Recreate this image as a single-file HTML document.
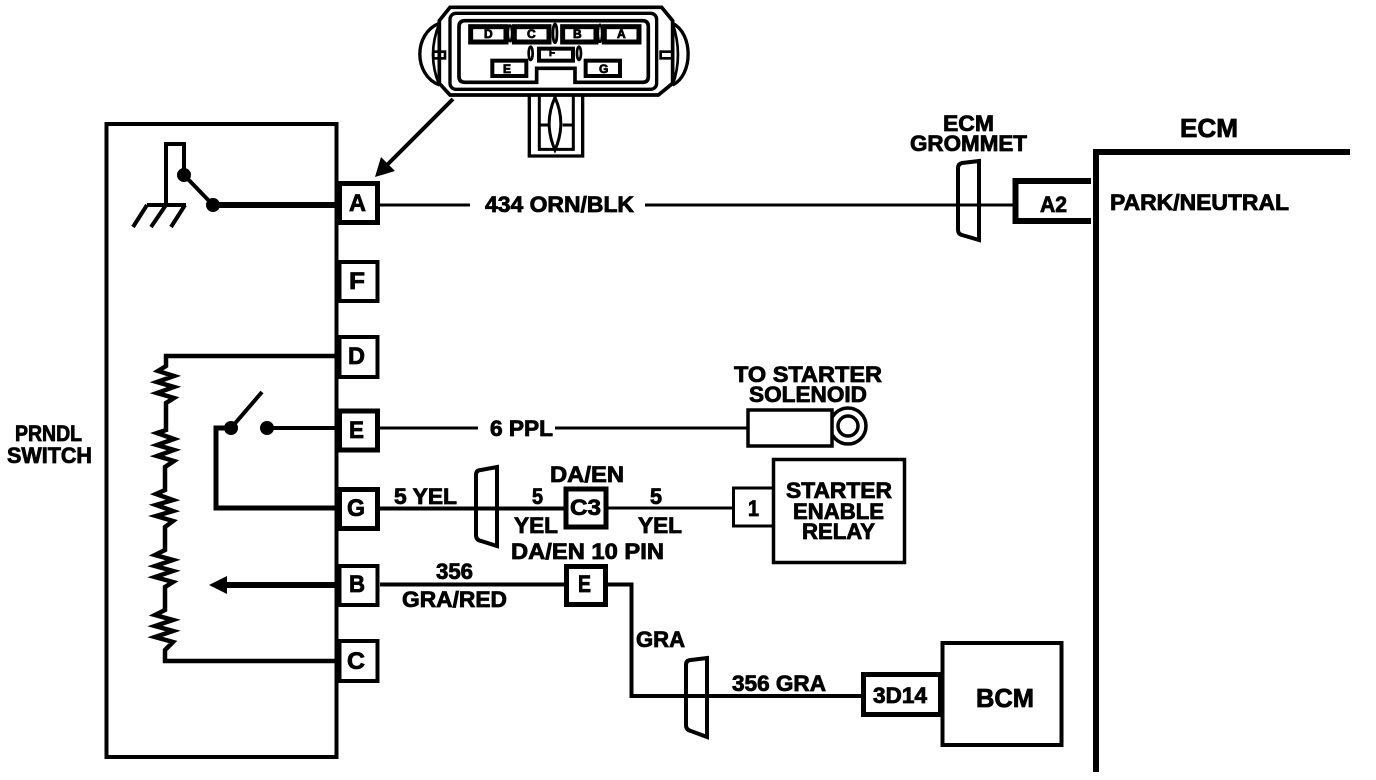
<!DOCTYPE html>
<html><head><meta charset="utf-8"><style>
html,body{margin:0;padding:0;background:#fff;width:1376px;height:780px;overflow:hidden}
svg{display:block}
text{font-family:"Liberation Sans",sans-serif;font-weight:bold;fill:#000;stroke:#000;stroke-width:.8;font-size:22px}
.w{fill:none;stroke:#000;stroke-linejoin:miter}
</style></head><body>
<svg width="1376" height="780" viewBox="0 0 1376 780" xmlns="http://www.w3.org/2000/svg">
<rect width="1376" height="780" fill="#fff"/>

<!-- Connector illustration -->
<g transform="translate(400,0) scale(0.3333)" fill="none" stroke="#000">
<path d="M150 22H785L818 62V250L775 285H150L118 250V62Z" stroke-width="11"/>
<rect x="150" y="40" width="620" height="228" rx="18" stroke-width="10"/>
<path d="M195 62H728Q745 62 745 80V230Q745 247 728 247H525V205H410V247H195Q177 247 177 230V80Q177 62 195 62Z" stroke-width="11"/>
<path d="M118 70C40 100 40 225 118 255" stroke-width="10"/>
<path d="M118 70Q80 165 118 255" stroke-width="8"/>
<path d="M818 70C880 100 880 225 818 255" stroke-width="10"/>
<path d="M818 70Q850 165 818 255" stroke-width="8"/>
<rect x="100" y="155" width="35" height="20" stroke-width="8"/>
<rect x="782" y="155" width="35" height="20" stroke-width="8"/>
<rect x="212" y="80" width="106" height="46" stroke-width="15"/>
<rect x="343" y="80" width="104" height="46" stroke-width="15"/>
<rect x="488" y="80" width="100" height="46" stroke-width="15"/>
<rect x="613" y="80" width="104" height="46" stroke-width="15"/>
<rect x="417" y="146" width="102" height="36" stroke-width="12"/>
<rect x="277" y="182" width="102" height="46" stroke-width="12"/>
<rect x="557" y="182" width="103" height="46" stroke-width="12"/>
<ellipse cx="330" cy="100" rx="6" ry="24" stroke-width="7"/>
<ellipse cx="465" cy="100" rx="6" ry="28" stroke-width="8"/>
<ellipse cx="600" cy="100" rx="6" ry="26" stroke-width="7"/>
<ellipse cx="392" cy="160" rx="6" ry="20" stroke-width="8"/>
<ellipse cx="537" cy="160" rx="6" ry="20" stroke-width="8"/>
<path d="M388 288V468H548V288" stroke-width="10"/>
<path d="M418 288V448H520V288" stroke-width="9"/>
<path d="M465 292Q430 370 465 450Q500 370 465 292Z" stroke-width="9"/>
<path d="M418 375H445M488 375H520" stroke-width="9"/>
</g>
<text x="484" y="38" style="font-size:12px">D</text>
<text x="527" y="38" style="font-size:12px">C</text>
<text x="573" y="38" style="font-size:12px">B</text>
<text x="617" y="38" style="font-size:12px">A</text>
<text x="549" y="56" style="font-size:10px">F</text>
<text x="503" y="73" style="font-size:12px">E</text>
<text x="599" y="73" style="font-size:12px">G</text>

<!-- Pointer arrow -->
<path class="w" d="M453 99L386 166" stroke-width="4"/>
<path d="M375 177L381 157L395 171Z" fill="#000"/>

<!-- PRNDL switch body -->
<rect class="w" x="106.500" y="124" width="230" height="633" stroke-width="4"/>

<!-- Pins -->
<g class="w" style="fill:#fff">
<rect x="339.500" y="183.500" width="38" height="39" stroke-width="5"/>
<rect x="339.500" y="262" width="38" height="39" stroke-width="4"/>
<rect x="339.500" y="337" width="38" height="40" stroke-width="4"/>
<rect x="339.500" y="411" width="38" height="39" stroke-width="5"/>
<rect x="339.500" y="489.500" width="38" height="39" stroke-width="5"/>
<rect x="339.500" y="566" width="38" height="39" stroke-width="4"/>
<rect x="339.500" y="641" width="38" height="40" stroke-width="4"/>
</g>
<text x="349" y="211" textLength="17" lengthAdjust="spacingAndGlyphs" style="font-size:24px">A</text>
<text x="349" y="289" textLength="16" lengthAdjust="spacingAndGlyphs" style="font-size:24px">F</text>
<text x="348" y="364" textLength="17" lengthAdjust="spacingAndGlyphs" style="font-size:24px">D</text>
<text x="349" y="438" textLength="15" lengthAdjust="spacingAndGlyphs" style="font-size:24px">E</text>
<text x="347" y="516" textLength="18" lengthAdjust="spacingAndGlyphs" style="font-size:24px">G</text>
<text x="349" y="592" textLength="16" lengthAdjust="spacingAndGlyphs" style="font-size:24px">B</text>
<text x="347" y="669" textLength="18" lengthAdjust="spacingAndGlyphs" style="font-size:24px">C</text>

<!-- Ground and park switch -->
<path class="w" d="M184 175V144H166V205" stroke-width="4"/>
<path class="w" d="M147 205H186" stroke-width="4"/>
<path class="w" d="M147 205L133 227M166 205L151 227M185 205L171 227" stroke-width="4"/>
<circle cx="184" cy="175" r="7" fill="#000"/>
<circle cx="213" cy="205" r="7" fill="#000"/>
<path class="w" d="M184 175L213 205" stroke-width="4"/>
<path class="w" d="M213 205H337" stroke-width="6"/>

<!-- Resistor chain -->
<path class="w" stroke-width="4.500" d="M337 356H166V366L158 371L174 376L157 382L174 387L157 393L174 398L166 403V430L157 433L174 439L157 445L174 450L157 456L174 461L165 467V490L156 494L173 500L156 505L173 511L156 516L173 521L165 527V550L155 555L173 560L155 566L173 571L155 577L173 582L165 587V610L155 615L173 620L155 626L173 631L155 637L173 642L165 650V661H337"/>

<!-- Neutral switch -->
<circle cx="231" cy="428" r="7" fill="#000"/>
<circle cx="267" cy="428" r="7" fill="#000"/>
<path class="w" d="M231 428L262 392" stroke-width="4"/>
<path class="w" d="M267 428H337" stroke-width="4"/>
<path class="w" d="M231 428H216V508H337" stroke-width="5"/>

<!-- Slider arrow -->
<path class="w" d="M222 585H337" stroke-width="6"/>
<path d="M209 585L227 576V594Z" fill="#000"/>

<!-- Wires -->
<path class="w" d="M380 205H470M645 205H1015" stroke-width="3"/>
<path class="w" d="M380 428H478M555 428H748" stroke-width="3"/>
<path class="w" d="M380 508.500H565" stroke-width="4"/>
<path class="w" d="M608 508H733" stroke-width="3"/>
<path class="w" d="M380 584.500H565" stroke-width="4"/>
<path class="w" d="M608 584.500H631.500V696H862" stroke-width="4"/>

<!-- Grommets -->
<path class="w" d="M476 475Q476 470 481 470L497 467V546L481 541Q476 540 476 535Z" stroke-width="4"/>
<path class="w" d="M686 665Q686 660 691 660L707 658V737L691 731Q686 730 686 725Z" stroke-width="4"/>
<path class="w" d="M958 168Q958 164 962 163L979 161V240L962 235Q958 234 958 230Z" stroke-width="4"/>

<!-- C3 and E connectors -->
<rect class="w" x="566" y="489" width="40" height="38" stroke-width="5" style="fill:#fff"/>
<rect class="w" x="566.500" y="566.500" width="39" height="38" stroke-width="5" style="fill:#fff"/>

<!-- Solenoid terminal -->
<circle class="w" cx="848" cy="426" r="18" stroke-width="3.500"/>
<circle class="w" cx="848" cy="426" r="10" stroke-width="3.500"/>
<rect class="w" x="748" y="410" width="84" height="36" stroke-width="3.500" style="fill:#fff"/>

<!-- Relay -->
<rect class="w" x="773.500" y="459.500" width="131" height="103" stroke-width="3.500"/>
<path class="w" d="M772 488H733.500V526H772" stroke-width="3"/>
<text x="748" y="516" textLength="11" lengthAdjust="spacingAndGlyphs">1</text>

<!-- BCM -->
<rect class="w" x="942.500" y="643" width="119" height="102" stroke-width="4"/>
<rect class="w" x="863.500" y="674.500" width="77" height="40" stroke-width="5"/>

<!-- ECM -->
<path class="w" d="M1096 772V152H1350" stroke-width="6"/>
<path class="w" d="M1091 181H1015.500V221H1091" stroke-width="6"/>

<!-- Labels -->
<text x="485" y="212" textLength="149" lengthAdjust="spacingAndGlyphs">434 ORN/BLK</text>
<text x="490" y="436" textLength="63" lengthAdjust="spacingAndGlyphs">6 PPL</text>
<text x="394" y="504" textLength="63" lengthAdjust="spacingAndGlyphs">5 YEL</text>
<text x="532" y="504" textLength="11" lengthAdjust="spacingAndGlyphs">5</text>
<text x="514" y="533" textLength="44" lengthAdjust="spacingAndGlyphs">YEL</text>
<text x="550" y="482" textLength="74" lengthAdjust="spacingAndGlyphs">DA/EN</text>
<text x="570" y="515" textLength="31" lengthAdjust="spacingAndGlyphs">C3</text>
<text x="650" y="504" textLength="12" lengthAdjust="spacingAndGlyphs">5</text>
<text x="638" y="533" textLength="44" lengthAdjust="spacingAndGlyphs">YEL</text>
<text x="511" y="559" textLength="153" lengthAdjust="spacingAndGlyphs">DA/EN 10 PIN</text>
<text x="436" y="579" textLength="37" lengthAdjust="spacingAndGlyphs">356</text>
<text x="402" y="607" textLength="105" lengthAdjust="spacingAndGlyphs">GRA/RED</text>
<text x="578" y="592" textLength="13" lengthAdjust="spacingAndGlyphs" style="font-size:24px">E</text>
<text x="636" y="647" textLength="49" lengthAdjust="spacingAndGlyphs">GRA</text>
<text x="732" y="691" textLength="94" lengthAdjust="spacingAndGlyphs">356 GRA</text>
<text x="873" y="703" textLength="54" lengthAdjust="spacingAndGlyphs">3D14</text>
<text x="976" y="707" textLength="58" lengthAdjust="spacingAndGlyphs" style="font-size:26px">BCM</text>
<text x="786" y="498" textLength="106" lengthAdjust="spacingAndGlyphs">STARTER</text>
<text x="793" y="519" textLength="91" lengthAdjust="spacingAndGlyphs">ENABLE</text>
<text x="802" y="539" textLength="73" lengthAdjust="spacingAndGlyphs">RELAY</text>
<text x="734" y="382" textLength="148" lengthAdjust="spacingAndGlyphs">TO STARTER</text>
<text x="749" y="402" textLength="118" lengthAdjust="spacingAndGlyphs">SOLENOID</text>
<text x="943" y="131" textLength="51" lengthAdjust="spacingAndGlyphs">ECM</text>
<text x="910" y="151" textLength="117" lengthAdjust="spacingAndGlyphs">GROMMET</text>
<text x="1180" y="137" textLength="58" lengthAdjust="spacingAndGlyphs" style="font-size:26px">ECM</text>
<text x="1040" y="212" textLength="27" lengthAdjust="spacingAndGlyphs">A2</text>
<text x="1110" y="210" textLength="179" lengthAdjust="spacingAndGlyphs">PARK/NEUTRAL</text>
<text x="15" y="441" textLength="67" lengthAdjust="spacingAndGlyphs">PRNDL</text>
<text x="7" y="463" textLength="85" lengthAdjust="spacingAndGlyphs">SWITCH</text>
</svg>
</body></html>
